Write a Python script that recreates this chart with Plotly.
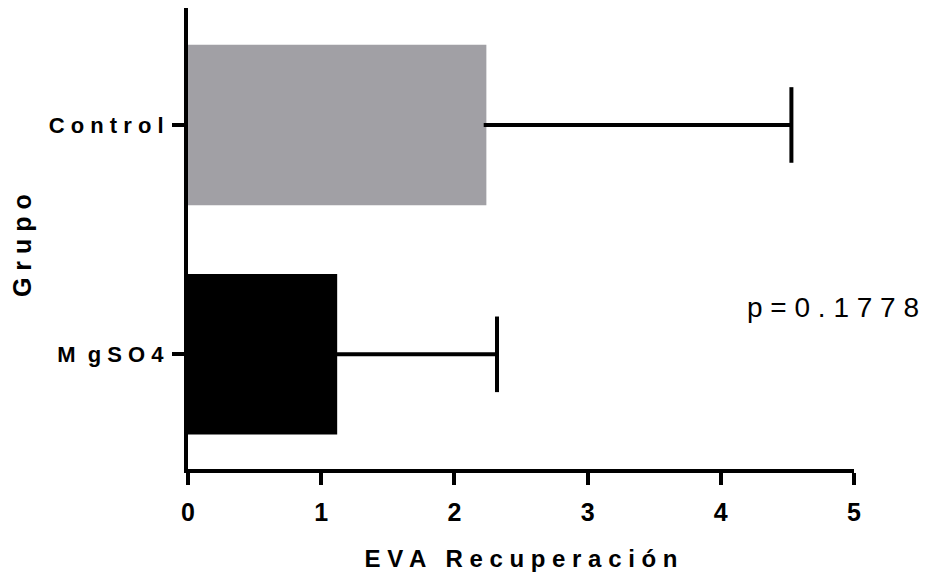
import plotly.graph_objects as go

groups = ["Control", "MgSO4"]
group_labels = ["C o n t r o l", "M  g S O 4"]
means = [2.24, 1.12]
errors = [2.29, 1.20]
colors = ["#A1A0A5", "#000000"]
x_ticks = [0, 1, 2, 3, 4, 5]
p_text = "p = 0 . 1 7 7 8"
x_title = "E V A   R e c u p e r a c i ó n"
y_title = "G r u p o"

font_family = "Liberation Sans, Arial, sans-serif"

fig = go.Figure()
fig.add_trace(go.Bar(
    x=means, y=groups, orientation="h",
    marker=dict(color=colors, line=dict(width=0)),
    width=0.7,
))

# error bars: plus side only (line from mean to mean+error, cap at end)
for g, m, e in zip(groups, means, errors):
    fig.add_trace(go.Scatter(
        x=[m - 0.02, m + e], y=[g, g], mode="lines",
        line=dict(color="black", width=4), hoverinfo="skip",
    ))
    fig.add_trace(go.Scatter(
        x=[m + e], y=[g], mode="markers",
        marker=dict(symbol="line-ns", size=54, color="black",
                    line=dict(color="black", width=4)),
        hoverinfo="skip",
    ))

fig.update_layout(
    width=929, height=582,
    margin=dict(l=188, r=75, t=8, b=113),
    plot_bgcolor="white", paper_bgcolor="white",
    showlegend=False,
    font=dict(family=font_family, color="black"),
    xaxis=dict(
        range=[0, 5], tickvals=x_ticks, ticktext=[str(v) for v in x_ticks],
        showline=True, linewidth=4, linecolor="black",
        ticks="outside", ticklen=12, tickwidth=4, tickcolor="black",
        showgrid=False, zeroline=False,
        tickfont=dict(size=25, family=font_family, weight="bold"),
        ticklabelstandoff=6,
        title=dict(text=x_title, font=dict(size=24, family=font_family, weight="bold"), standoff=26),
    ),
    yaxis=dict(
        type="category", categoryorder="array", categoryarray=["MgSO4", "Control"],
        tickvals=groups, ticktext=group_labels,
        range=[-0.5, 1.51],
        showline=True, linewidth=4, linecolor="black",
        ticks="outside", ticklen=12, tickwidth=4, tickcolor="black",
        showgrid=False, zeroline=False,
        tickfont=dict(size=22, family=font_family, weight="bold"),
        ticklabelstandoff=4,
    ),
    annotations=[
        dict(
            text=p_text, xref="paper", yref="paper", x=0.836, y=0.351,
            xanchor="left", yanchor="middle", showarrow=False,
            font=dict(size=28, family=font_family, color="black"),
        ),
        dict(
            text=y_title, xref="paper", yref="paper", x=-0.249, y=0.484,
            xanchor="center", yanchor="middle", textangle=-90, showarrow=False,
            font=dict(size=25, family=font_family, color="black", weight="bold"),
        ),
    ],
)

fig.write_html("out.html")
